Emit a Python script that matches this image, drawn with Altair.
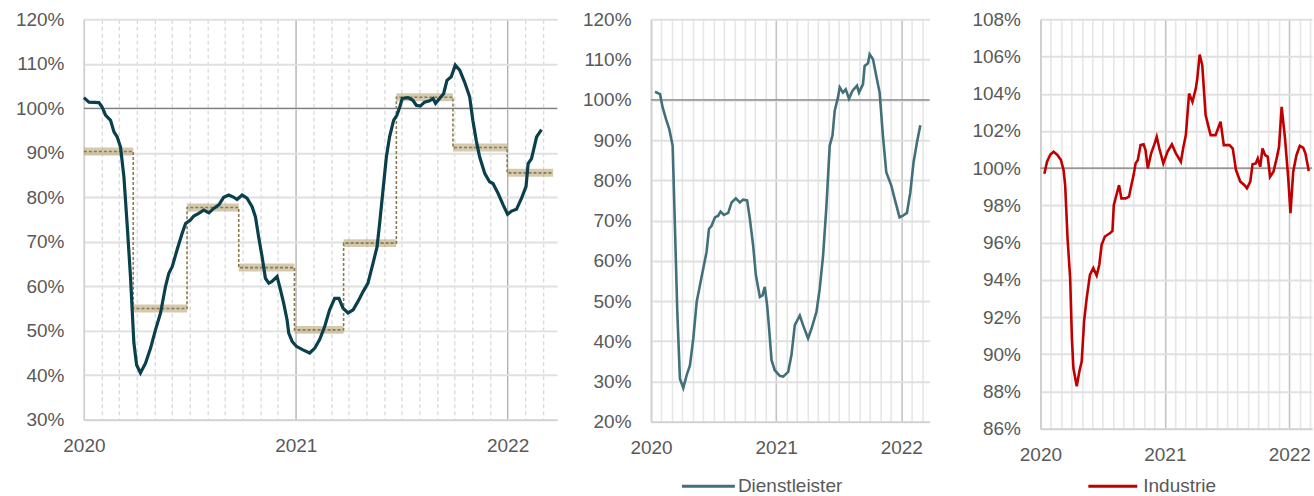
import altair as alt
import pandas as pd

FONT = "Liberation Sans"
LABEL_COLOR = "#595959"

# ---------------- Left panel: overall index (weekly, decimal years) ----------------
total_t = [2020.000, 2020.024, 2020.071, 2020.086, 2020.102, 2020.126, 2020.142, 2020.157, 2020.173, 2020.189,
           2020.204, 2020.220, 2020.236, 2020.249, 2020.267, 2020.291, 2020.315, 2020.338, 2020.362, 2020.385,
           2020.401, 2020.417, 2020.440, 2020.464, 2020.480, 2020.503, 2020.519, 2020.542, 2020.566, 2020.590,
           2020.613, 2020.637, 2020.660, 2020.684, 2020.708, 2020.723, 2020.747, 2020.770, 2020.794, 2020.810,
           2020.825, 2020.841, 2020.857, 2020.873, 2020.888, 2020.912, 2020.928, 2020.943, 2020.959, 2020.967,
           2020.983, 2021.003, 2021.034, 2021.066, 2021.090, 2021.113, 2021.137, 2021.160, 2021.184, 2021.204,
           2021.223, 2021.247, 2021.271, 2021.294, 2021.318, 2021.341, 2021.365, 2021.384, 2021.396, 2021.412,
           2021.428, 2021.443, 2021.462, 2021.478, 2021.491, 2021.503, 2021.530, 2021.553, 2021.569, 2021.588,
           2021.608, 2021.632, 2021.648, 2021.660, 2021.679, 2021.698, 2021.714, 2021.734, 2021.753, 2021.774,
           2021.797, 2021.821, 2021.836, 2021.852, 2021.868, 2021.892, 2021.915, 2021.931, 2021.955, 2021.979,
           2022.000, 2022.019, 2022.042, 2022.066, 2022.087, 2022.097, 2022.113, 2022.137, 2022.160]
total_v = [102.4, 101.4, 101.3, 100.3, 98.5, 97.3, 94.7, 93.6, 91.3, 84.6,
           74.1, 62.2, 47.3, 42.3, 40.5, 42.7, 46.1, 50.2, 54.0, 59.9,
           62.9, 64.4, 68.2, 71.9, 74.1, 74.9, 75.8, 76.4, 77.1, 76.5,
           77.5, 78.3, 80.0, 80.5, 80.0, 79.5, 80.5, 79.8, 77.9, 75.6,
           71.1, 66.7, 61.8, 60.7, 61.1, 62.2, 59.2, 56.2, 52.5, 49.5,
           47.6, 46.5, 45.7, 45.0, 46.1, 48.0, 51.0, 54.7, 57.3, 57.3,
           55.1, 54.0, 54.7, 56.6, 58.8, 60.7, 65.2, 68.9, 74.1, 81.6,
           89.1, 93.6, 97.3, 98.5, 100.3, 102.2, 102.4, 101.8, 100.7, 100.5,
           101.4, 101.7, 102.2, 101.1, 102.2, 103.3, 106.3, 107.1, 109.7, 108.6,
           105.9, 102.6, 97.3, 92.8, 89.1, 85.4, 83.5, 83.1, 80.9, 78.3,
           76.2, 76.9, 77.3, 79.8, 82.4, 87.6, 88.7, 93.6, 95.2]

# quarterly averages (step line)
step_start = [2020.000, 2020.233, 2020.487, 2020.731, 2020.994, 2021.226, 2021.475, 2021.742, 2021.998]
step_end = [2020.233, 2020.487, 2020.731, 2020.994, 2021.226, 2021.475, 2021.742, 2021.998, 2022.215]
step_val = [90.3, 55.0, 77.7, 64.2, 50.2, 69.7, 102.5, 91.2, 85.5]

# ---------------- Middle panel: Dienstleister ----------------
dienst_t = [2020.032, 2020.072, 2020.093, 2020.120, 2020.146, 2020.173, 2020.191, 2020.210, 2020.231, 2020.258,
            2020.285, 2020.311, 2020.338, 2020.365, 2020.391, 2020.417, 2020.444, 2020.463, 2020.484, 2020.511,
            2020.537, 2020.556, 2020.582, 2020.617, 2020.644, 2020.678, 2020.710, 2020.736, 2020.768, 2020.790,
            2020.816, 2020.838, 2020.870, 2020.891, 2020.909, 2020.928, 2020.944, 2020.963, 2020.989, 2021.029,
            2021.056, 2021.096, 2021.122, 2021.149, 2021.189, 2021.215, 2021.255, 2021.282, 2021.322, 2021.348,
            2021.375, 2021.402, 2021.428, 2021.450, 2021.468, 2021.494, 2021.508, 2021.534, 2021.556, 2021.582,
            2021.609, 2021.646, 2021.662, 2021.694, 2021.707, 2021.734, 2021.747, 2021.774, 2021.800, 2021.827,
            2021.853, 2021.880, 2021.920, 2021.947, 2021.986, 2022.013, 2022.045, 2022.072, 2022.098, 2022.125,
            2022.152]
dienst_v = [102.0, 101.4, 98.1, 95.2, 92.7, 88.6, 68.7, 47.3, 30.7, 28.4,
            31.6, 34.0, 40.7, 49.8, 53.9, 58.0, 62.2, 67.9, 68.7, 70.8,
            71.2, 72.2, 71.4, 71.9, 74.5, 75.5, 74.5, 75.2, 75.0, 70.4,
            63.8, 56.4, 51.0, 51.4, 53.5, 48.9, 43.1, 35.3, 32.8, 31.4,
            31.2, 32.4, 36.5, 44.0, 46.4, 44.0, 40.7, 43.1, 47.3, 53.0,
            61.3, 73.7, 88.6, 91.1, 97.3, 100.6, 103.1, 101.8, 102.6, 100.3,
            102.2, 103.5, 101.8, 103.9, 108.4, 109.1, 111.3, 110.1, 105.9, 101.8,
            91.1, 82.0, 78.7, 75.4, 70.8, 71.2, 71.9, 77.0, 84.5, 89.4,
            93.7]

# ---------------- Right panel: Industrie ----------------
ind_t = [2020.032, 2020.053, 2020.080, 2020.106, 2020.138, 2020.165, 2020.186, 2020.199, 2020.218, 2020.239,
         2020.253, 2020.265, 2020.292, 2020.313, 2020.332, 2020.351, 2020.372, 2020.398, 2020.425, 2020.452,
         2020.473, 2020.492, 2020.518, 2020.558, 2020.579, 2020.590, 2020.611, 2020.632, 2020.651, 2020.685,
         2020.712, 2020.731, 2020.749, 2020.765, 2020.783, 2020.805, 2020.829, 2020.845, 2020.863, 2020.890,
         2020.916, 2020.935, 2020.956, 2020.988, 2021.022, 2021.057, 2021.089, 2021.129, 2021.147, 2021.169,
         2021.195, 2021.222, 2021.249, 2021.261, 2021.280, 2021.301, 2021.328, 2021.368, 2021.408, 2021.448,
         2021.474, 2021.520, 2021.546, 2021.572, 2021.607, 2021.641, 2021.660, 2021.687, 2021.705, 2021.731,
         2021.747, 2021.767, 2021.785, 2021.806, 2021.827, 2021.846, 2021.873, 2021.899, 2021.918, 2021.939,
         2021.966, 2021.992, 2022.010, 2022.032, 2022.058, 2022.085, 2022.112, 2022.130, 2022.157]
ind_v = [99.70, 100.35, 100.74, 100.89, 100.70, 100.44, 99.90, 99.09, 96.24, 94.09,
         90.87, 89.26, 88.28, 89.08, 89.62, 91.77, 93.02, 94.27, 94.63, 94.23,
         94.80, 95.88, 96.33, 96.50, 96.63, 98.02, 98.56, 99.09, 98.38, 98.38,
         98.47, 99.09, 99.63, 100.26, 100.44, 101.24, 101.28, 100.97, 99.99, 100.80,
         101.28, 101.69, 101.06, 100.26, 100.89, 101.28, 100.80, 100.35, 101.06, 101.78,
         104.01, 103.57, 104.28, 104.82, 106.11, 105.53, 102.85, 101.78, 101.78, 102.50,
         101.24, 101.24, 101.06, 99.90, 99.28, 99.09, 98.92, 99.28, 100.21, 100.26,
         100.53, 100.08, 101.06, 100.70, 100.62, 99.54, 99.81, 100.53, 101.15, 103.30,
         101.60, 99.45, 97.58, 99.81, 100.70, 101.20, 101.10, 100.80, 99.85]

# axis tick values
month_ticks = [2020 + m / 12 for m in range(0, 27)]
y_ticks_left = [30, 40, 50, 60, 70, 80, 90, 100, 110, 120]
y_ticks_mid = [20, 30, 40, 50, 60, 70, 80, 90, 100, 110, 120]
y_ticks_right = [86, 88, 90, 92, 94, 96, 98, 100, 102, 104, 106, 108]
ref_line = [100]

YEAR_TEST = "datum.value % 1 === 0"


def x_enc(field, end, dashed):
    axis_kw = dict(
        values=month_ticks,
        labelExpr="datum.value % 1 === 0 ? format(datum.value, 'd') : ''",
        title=None, grid=True,
        domain=True, domainColor="#d0d0d0", domainWidth=1.5,
        ticks=False, tickSize=0, labelPadding=17, labelFlush=False, labelOverlap=False,
        labelFont=FONT, labelFontSize=19, labelColor=LABEL_COLOR,
    )
    if dashed:
        axis_kw.update(
            gridColor=alt.condition(YEAR_TEST, alt.value("#a6a6a6"), alt.value("#d6d6d6")),
            gridDash=alt.condition(YEAR_TEST, alt.value([]), alt.value([4, 3])),
            gridWidth=1.2,
        )
    else:
        axis_kw.update(
            gridColor=alt.condition(YEAR_TEST, alt.value("#c4c4c4"), alt.value("#e6e6e6")),
            gridWidth=1.6,
        )
    return alt.X(f"{field}:Q", scale=alt.Scale(domain=[2020, end], nice=False, zero=False),
                 axis=alt.Axis(**axis_kw))


def y_enc(field, lo, hi, ticks):
    return alt.Y(f"{field}:Q", scale=alt.Scale(domain=[lo, hi], nice=False, zero=False),
                 axis=alt.Axis(values=ticks, labelExpr="datum.value + '%'", title=None,
                               grid=True, gridColor="#e0e0e0", gridWidth=2,
                               domain=True, domainColor="#d0d0d0", domainWidth=1.5,
                               ticks=False, tickSize=0, labelPadding=20,
                               labelFont=FONT, labelFontSize=19, labelColor=LABEL_COLOR))


# ---------------- build left panel ----------------
L_END = 2022.234
total_df = pd.DataFrame({"t": total_t, "v": total_v})
band_df = pd.DataFrame({"s": step_start, "e": step_end, "v": step_val})
path_x, path_y = [], []
for s, e, v in zip(step_start, step_end, step_val):
    path_x += [s, e]
    path_y += [v, v]
step_df = pd.DataFrame({"t": path_x, "v": path_y, "i": list(range(len(path_x)))})
ref_df = pd.DataFrame({"v": ref_line})

lx = x_enc("t", L_END, True)
ly = y_enc("v", 30, 120, y_ticks_left)

left_ref = alt.Chart(ref_df).mark_rule(color="#7f7f7f", strokeWidth=1.3).encode(y=ly)
left_band = alt.Chart(band_df).mark_rule(strokeWidth=8, color="#b8a77a", opacity=0.6, strokeCap="butt").encode(
    x=x_enc("s", L_END, True), x2="e", y=ly)
left_step = alt.Chart(step_df).mark_line(color="#8c7a4c", strokeWidth=1.6, strokeDash=[3, 2]).encode(
    x=lx, y=ly, order="i:Q")
left_line = alt.Chart(total_df).mark_line(color="#0a3f4c", strokeWidth=3.2).encode(x=lx, y=ly)
left = alt.layer(left_ref, left_band, left_step, left_line).properties(width=474, height=401)

# ---------------- middle panel ----------------
M_END = 2022.226
dienst_df = pd.DataFrame({"t": dienst_t, "v": dienst_v, "s": "Dienstleister"})
mx = x_enc("t", M_END, False)
my = y_enc("v", 20, 120, y_ticks_mid)
mid_ref = alt.Chart(ref_df).mark_rule(color="#7f7f7f", strokeWidth=1.3).encode(y=my)
mid_line = alt.Chart(dienst_df).mark_line(strokeWidth=2.6).encode(
    x=mx, y=my,
    color=alt.Color("s:N", scale=alt.Scale(domain=["Dienstleister"], range=["#41707a"]),
                    legend=alt.Legend(title=None, orient="none", legendX=48, legendY=458,
                                      symbolType="M-5.3,0L5.3,0", symbolSize=100, symbolStrokeWidth=3,
                                      labelFont=FONT, labelFontSize=19, labelColor=LABEL_COLOR,
                                      labelOffset=20, padding=0)))
mid = alt.layer(mid_ref, mid_line).properties(width=279, height=403)

# ---------------- right panel ----------------
R_END = 2022.183
ind_df = pd.DataFrame({"t": ind_t, "v": ind_v, "s": "Industrie"})
rx = x_enc("t", R_END, False)
ry = y_enc("v", 86, 108, y_ticks_right)
right_ref = alt.Chart(ref_df).mark_rule(color="#7f7f7f", strokeWidth=1.3).encode(y=ry)
right_line = alt.Chart(ind_df).mark_line(strokeWidth=2.6).encode(
    x=rx, y=ry,
    color=alt.Color("s:N", scale=alt.Scale(domain=["Industrie"], range=["#c00000"]),
                    legend=alt.Legend(title=None, orient="none", legendX=63, legendY=458,
                                      symbolType="M-4.9,0L4.9,0", symbolSize=100, symbolStrokeWidth=3,
                                      labelFont=FONT, labelFontSize=19, labelColor=LABEL_COLOR,
                                      labelOffset=21, padding=0)))
right = alt.layer(right_ref, right_line).properties(width=272, height=410)

inner = alt.hconcat(left, mid, spacing=24).resolve_scale(color="independent")
chart = alt.hconcat(inner, right, spacing=41).resolve_scale(color="independent").properties(
    padding={"left": 15, "top": 10, "right": 0, "bottom": 0},
    background="white",
).configure_view(stroke=None)

chart.save("out.html", embed_options={"renderer": "svg", "actions": False})
